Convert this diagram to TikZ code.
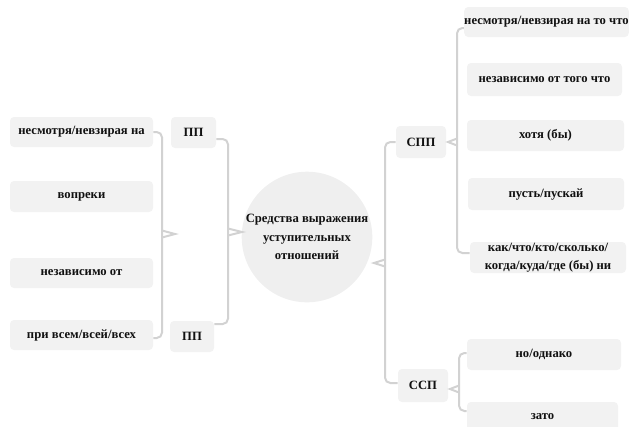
\documentclass[tikz,border=0pt]{standalone}
\usepackage{fontspec}
\setmainfont{Liberation Serif}
\usetikzlibrary{calc}
\definecolor{boxfill}{HTML}{F2F2F2}
\definecolor{circfill}{HTML}{EFEFEF}
\definecolor{linecol}{HTML}{D2D2D2}
\definecolor{txt}{HTML}{111111}
\tikzset{
  box/.style 2 args={fill=boxfill, rounded corners=3pt, inner sep=0pt, align=center,
    minimum width=#1*0.75pt, minimum height=#2*0.75pt, text=txt,
    font=\fontsize{9.5}{13.5}\selectfont\bfseries},
  hub/.style={circle, fill=circfill, inner sep=0pt, minimum size=124*0.75pt, align=center,
    text=txt, font=\fontsize{9.5}{14}\selectfont\bfseries},
  brace/.style={draw=linecol, line width=1.5pt, rounded corners=4pt},
  cusp/.style={draw=linecol, line width=1.5pt, line join=miter}
}
\begin{document}
\begin{tikzpicture}[x=0.75pt, y=-0.75pt]
\useasboundingbox (0,0) rectangle (630,426);
% left column
\node[box={143}{30}] (lb1) at (81.5,132) {несмотря/невзирая на};
\node[box={143}{31}] (lb2) at (81.5,196.5) {вопреки};
\node[box={143}{30}] (lb3) at (81.5,273) {независимо от};
\node[box={143}{30}] (lb4) at (81.5,335) {при всем/всей/всех};
% ПП
\node[box={45}{31}] (pp1) at (193.5,132.5) {ПП};
\node[box={44}{31}] (pp2) at (192,336.5) {ПП};
% hub
\node[hub] (hub) at (307,237) {Средства выражения\\уступительных\\отношений};
% СПП / ССП
\node[box={50}{32}] (spp) at (421,142) {СПП};
\node[box={50}{33}] (ssp) at (423,385.5) {ССП};
% right column
\node[box={159}{30}] (r1) at (546.5,22) {несмотря/невзирая на то что};
\node[box={155}{33}] (r2) at (544.5,79.5) {независимо от того что};
\node[box={157}{31}] (r3) at (545.5,135.5) {хотя (бы)};
\node[box={156}{32}] (r4) at (546,194) {пусть/пускай};
\node[box={156}{31}] (r5) at (548,257.5) {как/что/кто/сколько/\\когда/куда/где (бы) ни};
\node[box={154}{31}] (r6) at (544,354.5) {но/однако};
\node[box={151}{30}] (r7) at (542.5,417) {зато};
% cusp tips
\coordinate (t1) at (175,234);
\coordinate (t2) at (242,232);
\coordinate (t3) at (374,263);
\coordinate (t4) at (448,142);
\coordinate (t5) at (450,389);
% brace 1: left column
\draw[brace] (lb1.east) -- (162,132) -- (162,338) -- ($(lb4.east)+(0,3)$);
\draw[cusp] (162,230.5) -- (t1) -- (162,237.5);
% brace 2: ПП
\draw[brace] ($(pp1.east)+(0,6.5)$) -- (228,139) -- (228,324) -- ($(pp2.east)+(0,-12.5)$);
\draw[cusp] (228,228.5) -- (t2) -- (228,235.5);
% brace 3: hub to СПП/ССП
\draw[brace] (spp.west) -- (385,142) -- (385,383) -- ($(ssp.west)+(0,-2.5)$);
\draw[cusp] (385,259.5) -- (t3) -- (385,266.5);
% brace 4: СПП
\draw[brace] ($(r1.west)+(0,6)$) -- (457,28) -- (457,253) -- ($(r5.west)+(0,-4.5)$);
\draw[cusp] (457,138.5) -- (t4) -- (457,145.5);
% brace 5: ССП
\draw[brace] ($(r6.west)+(0,-1.5)$) -- (459,353) -- (459,411) -- ($(r7.west)+(0,-6)$);
\draw[cusp] (459,385.5) -- (t5) -- (459,392.5);
\end{tikzpicture}
\end{document}
